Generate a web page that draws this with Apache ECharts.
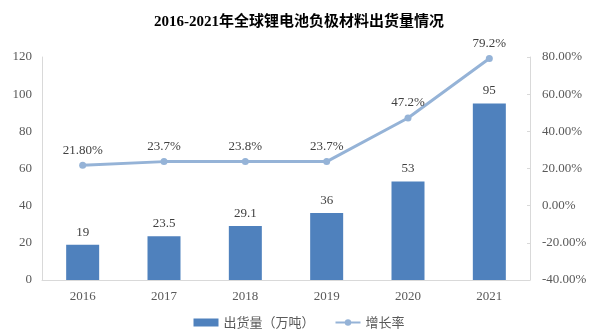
<!DOCTYPE html>
<html><head><meta charset="utf-8">
<script src="https://cdn.jsdelivr.net/npm/echarts@6/dist/echarts.min.js"></script>
<style>html,body{margin:0;padding:0;background:#fff}#c{width:598px;height:336px}</style>
</head><body><div id="c"></div>
<script>
var categories = ['2016','2017','2018','2019','2020','2021'];
var shipments = [19, 23.5, 29.1, 36, 53, 95];
var growth = [21.8, 23.7, 23.8, 23.7, 47.2, 79.2];
var growthLabels = ['21.80%','23.7%','23.8%','23.7%','47.2%','79.2%'];
var leftTicks = [0, 20, 40, 60, 80, 100, 120];
var rightTicks = [-40, -20, 0, 20, 40, 60, 80];

var serif = '"Liberation Serif","Noto Sans CJK SC",serif';
var chart = echarts.init(document.getElementById('c'));
chart.setOption({
  animation: false,
  title: {
    text: '2016-2021年全球锂电池负极材料出货量情况',
    left: 'center', top: 10,
    textStyle: { fontFamily: serif, fontWeight: 'bold', fontSize: 15, color: '#000' }
  },
  legend: {
    bottom: 2, left: 'center', itemGap: 20, itemWidth: 25, itemHeight: 8,
    textStyle: { fontFamily: '"Noto Sans CJK SC",sans-serif', fontSize: 13, color: '#595959' },
    data: [{ name: '出货量（万吨）', icon: 'rect' }, { name: '增长率' }]
  },
  grid: { left: 42, right: 68, top: 57, bottom: 56 },
  xAxis: {
    type: 'category', data: categories,
    axisLine: { lineStyle: { color: '#d9d9d9' } },
    axisTick: { show: false },
    axisLabel: { fontFamily: serif, fontSize: 13, color: '#595959', margin: 10 }
  },
  yAxis: [{
    type: 'value', min: leftTicks[0], max: leftTicks[leftTicks.length - 1], interval: 20,
    axisLine: { show: true, lineStyle: { color: '#d9d9d9' } },
    axisTick: { show: false },
    splitLine: { show: false },
    axisLabel: { fontFamily: serif, fontSize: 13, color: '#595959', margin: 10 }
  }, {
    type: 'value', min: rightTicks[0], max: rightTicks[rightTicks.length - 1], interval: 20,
    axisLine: { show: true, lineStyle: { color: '#d9d9d9' } },
    axisTick: { show: true, inside: true, length: 3, lineStyle: { color: '#d9d9d9' } },
    splitLine: { show: false },
    axisLabel: { fontFamily: serif, fontSize: 13, color: '#595959', margin: 12,
      formatter: function (v) { return v.toFixed(2) + '%'; } }
  }],
  series: [{
    name: '出货量（万吨）', type: 'bar', data: shipments, barWidth: 33,
    itemStyle: { color: '#4f81bd' },
    label: { show: true, position: 'top', distance: 6, fontFamily: serif, fontSize: 13, color: '#404040' }
  }, {
    name: '增长率', type: 'line', yAxisIndex: 1, data: growth,
    symbol: 'circle', symbolSize: 7,
    lineStyle: { color: '#95b3d7', width: 3 },
    itemStyle: { color: '#95b3d7' },
    label: { show: true, position: 'top', distance: 5, fontFamily: serif, fontSize: 13, color: '#404040',
      formatter: function (p) { return growthLabels[p.dataIndex]; } }
  }]
});
</script></body></html>
